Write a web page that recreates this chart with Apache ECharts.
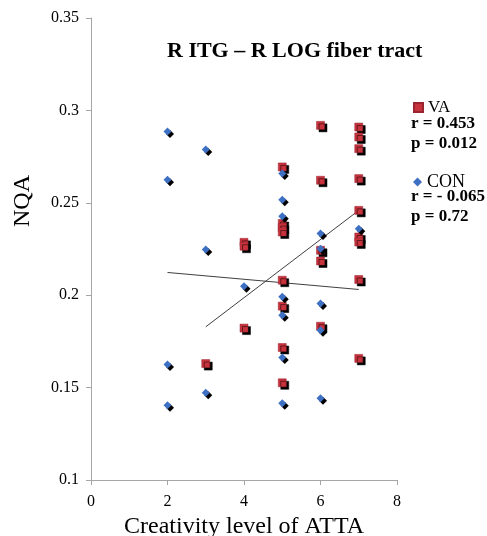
<!DOCTYPE html>
<html><head><meta charset="utf-8">
<script src="https://cdn.jsdelivr.net/npm/echarts@6/dist/echarts.min.js"></script>
<style>html,body{margin:0;padding:0;background:#fff}#c{width:487px;height:536px}</style>
</head><body><div id="c"></div>
<script>
const titleText = 'R ITG \u2013 R LOG fiber tract';
const xName = 'Creativity level of ATTA';
const yName = 'NQA';
const seriesNames = ['VA', 'CON'];
const statsVA = ['r = 0.453', 'p = 0.012'];
const statsCON = ['r = - 0.065', 'p = 0.72'];

const vaX = [3, 4, 4, 4, 5, 5, 5, 5, 5, 5, 5, 5, 6, 6, 6, 6, 6, 7, 7, 7, 7, 7, 7, 7, 7, 7];
const vaY = [0.163, 0.2286, 0.2265, 0.1822, 0.2694, 0.2388, 0.2366, 0.2342, 0.2081, 0.1941, 0.1717, 0.1526,
             0.2919, 0.2622, 0.2243, 0.2185, 0.1832, 0.291, 0.2856, 0.2793, 0.2631, 0.2459, 0.2315, 0.2288, 0.2085, 0.1658];
const conX = [2, 2, 2, 2, 3, 3, 3, 4, 5, 5, 5, 5, 5, 5, 5, 6, 6, 6, 6, 6, 7];
const conY = [0.2886, 0.2625, 0.1625, 0.1405, 0.2788, 0.2247, 0.1472, 0.2049, 0.2658, 0.2517, 0.2427, 0.1991,
              0.1892, 0.1663, 0.1415, 0.2334, 0.2252, 0.1955, 0.1811, 0.1442, 0.236];
const vaTrendX = [3, 7];
const vaTrendY = [0.1829, 0.2459];
const conTrendX = [2, 7];
const conTrendY = [0.2123, 0.2031];

const zip = (a, b) => a.map((v, i) => [v, b[i]]);
const serif = 'Liberation Serif';
const red = '#c8323c', blue = '#3d70c2';

const chart = echarts.init(document.getElementById('c'));
chart.setOption({
  animation: false,
  backgroundColor: '#fff',
  title: {
    text: titleText, left: 162, top: 35,
    textStyle: { fontFamily: serif, fontWeight: 'bold', fontSize: 22, color: '#000' }
  },
  grid: { left: 91, right: 90, top: 18, bottom: 56, containLabel: false, outerBoundsMode: 'none' },
  xAxis: {
    type: 'value', min: 0, max: 8, interval: 2,
    name: xName, nameLocation: 'middle', nameGap: 30,
    nameTextStyle: { fontFamily: serif, fontSize: 24, color: '#000' },
    axisLine: { show: true, onZero: false, lineStyle: { color: '#a6a6a6', width: 1 } },
    axisTick: { show: true, length: 5, lineStyle: { color: '#a6a6a6' } },
    axisLabel: { fontFamily: serif, fontSize: 16, color: '#000', margin: 14 },
    splitLine: { show: false }
  },
  yAxis: {
    type: 'value', min: 0.1, max: 0.35, interval: 0.05,
    axisLine: { show: true, onZero: false, lineStyle: { color: '#a6a6a6', width: 1 } },
    axisTick: { show: true, length: 5, lineStyle: { color: '#a6a6a6' } },
    axisLabel: { fontFamily: serif, fontSize: 16, color: '#000', margin: 12 },
    splitLine: { show: false }
  },
  legend: [
    { data: [seriesNames[0]], orient: 'vertical', left: 408, top: 94, itemWidth: 9, itemHeight: 9, itemGap: 4,
      textStyle: { fontFamily: serif, fontSize: 17, color: '#000' } },
    { data: [seriesNames[1]], orient: 'vertical', left: 408, top: 168, itemWidth: 9, itemHeight: 9, itemGap: 4,
      textStyle: { fontFamily: serif, fontSize: 18, color: '#000' } }
  ],
  graphic: [
    { type: 'text', x: 23, y: 201, rotation: Math.PI / 2,
      style: { text: yName, fontFamily: serif, fontSize: 24, fill: '#000', textAlign: 'center', textVerticalAlign: 'middle' } },
    { type: 'text', left: 411, top: 114, style: { text: statsVA.join('\n'), fontFamily: serif, fontWeight: 'bold', fontSize: 17, lineHeight: 20, fill: '#000' } },
    { type: 'text', left: 411, top: 187, style: { text: statsCON.join('\n'), fontFamily: serif, fontWeight: 'bold', fontSize: 17, lineHeight: 20, fill: '#000' } }
  ],
  series: [
    { name: seriesNames[0], type: 'scatter', symbol: 'rect', symbolSize: 8, data: zip(vaX, vaY),
      itemStyle: { color: red, borderColor: '#9a2430', borderWidth: 0.5, shadowColor: '#000', shadowBlur: 0, shadowOffsetX: 2.5, shadowOffsetY: 2.5, opacity: 1 } },
    { name: seriesNames[1], type: 'scatter', symbol: 'diamond', symbolSize: 8, data: zip(conX, conY),
      itemStyle: { color: blue, shadowColor: '#000', shadowBlur: 0, shadowOffsetX: 2.5, shadowOffsetY: 2.5, opacity: 1 } },
    { name: 'vaTrend', type: 'line', data: zip(vaTrendX, vaTrendY), symbol: 'none', silent: true,
      lineStyle: { color: '#404040', width: 1 }, z: 1 },
    { name: 'conTrend', type: 'line', data: zip(conTrendX, conTrendY), symbol: 'none', silent: true,
      lineStyle: { color: '#404040', width: 1 }, z: 1 }
  ]
});
</script></body></html>
